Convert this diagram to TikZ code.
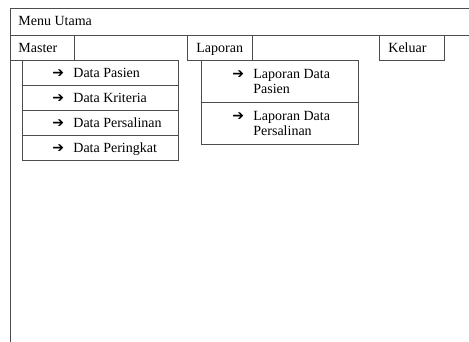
\documentclass[tikz,border=0pt]{standalone}
\usepackage{fontspec}
\setmainfont{Liberation Serif}
\newfontfamily\symfont{DejaVu Sans}
\usetikzlibrary{calc}
\definecolor{linegray}{gray}{0.3}
\begin{document}
\begin{tikzpicture}[x=1pt,y=-1pt, line width=0.8pt,
  box/.style={draw=linegray, rectangle, inner sep=0pt, anchor=north west},
  lbl/.style={anchor=base west, inner sep=0pt, font=\fontsize{14}{15.5}\selectfont, align=left},
  arr/.style={anchor=base west, inner sep=0pt, font=\symfont\bfseries\fontsize{14}{15}\selectfont}]
\clip (0,0) rectangle (469,341);
\fill[white] (0,0) rectangle (469,341);
% outer frame and title row
\node[box, minimum width=480, minimum height=360] (frame) at (10,8) {};
\node[box, minimum width=480, minimum height=27] (menu) at (10,8) {};
\node[lbl] (menut) at ($(menu.west)+(8,4)$) {Menu Utama};
% top-level menu items
\node[box, minimum width=64, minimum height=25] (master) at (10,35) {};
\node[lbl] (mastert) at ($(master.west)+(8,5)$) {Master};
\node[box, minimum width=65, minimum height=25] (laporan) at (187,35) {};
\node[lbl] (laporant) at ($(laporan.west)+(9,5)$) {Laporan};
\node[box, minimum width=65, minimum height=25] (keluar) at (379,35) {};
\node[lbl] (keluart) at ($(keluar.west)+(9,5)$) {Keluar};
% Master submenu
\foreach \i/\t in {0/Data Pasien,1/Data Kriteria,2/Data Persalinan,3/Data Peringkat}{
  \node[box, minimum width=156, minimum height=25] (m\i) at (22,60+25*\i) {};
  \node[arr] (ma\i) at ($(m\i.west)+(30,4.5)$) {➔};
  \node[lbl] (mt\i) at ($(m\i.west)+(51,4.5)$) {\t};
}
% Laporan submenu
\node[box, minimum width=157, minimum height=42] (l0) at (201,60) {};
\node[arr] (la0) at ($(l0.north west)+(31,18)$) {➔};
\node[lbl] (lt0) at ($(l0.north west)+(52,33.5)$) {Laporan Data\\Pasien};
\node[box, minimum width=157, minimum height=42] (l1) at (201,102) {};
\node[arr] (la1) at ($(l1.north west)+(31,18)$) {➔};
\node[lbl] (lt1) at ($(l1.north west)+(52,33.5)$) {Laporan Data\\Persalinan};
\end{tikzpicture}
\end{document}
